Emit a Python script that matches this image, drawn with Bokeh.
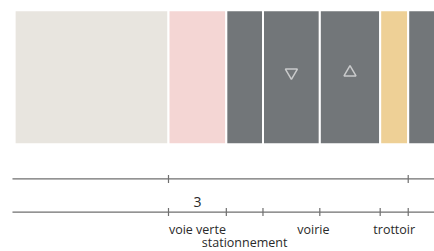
from bokeh.plotting import figure
from bokeh.models import Range1d
from bokeh.core.properties import value
from bokeh.embed import file_html
from bokeh.resources import INLINE
import numpy as np

# --- data (metres) ---
segments = ["terrain", "voie verte", "stationnement", "voirie", "voirie", "trottoir", "voirie"]
widths_m = [7.85, 2.95, 1.87, 2.9, 3.08, 1.43, 1.8]
seg_colors = ["#e8e5df", "#f4d6d4", "#727679", "#727679", "#727679", "#eed096", "#727679"]
lane_dirs = ["down", "up"]           # direction arrows in the two voirie lanes
dim_label = "3"                      # width of voie verte
labels = ["voie verte", "stationnement", "voirie", "trottoir"]

origin = -widths_m[0]
lefts = origin + np.concatenate([[0], np.cumsum(widths_m)[:-1]])
rights = lefts + np.array(widths_m)
centers = (lefts + rights) / 2

p = figure(width=434, height=251, output_backend="svg", toolbar_location=None,
           x_range=Range1d(-8.571, 13.571), y_range=Range1d(251, 0),
           min_border=0, outline_line_color=None)
p.axis.visible = False
p.grid.visible = False
p.background_fill_color = "white"
p.border_fill_color = "white"

# cross-section bands
p.quad(left=lefts, right=rights, top=9.7, bottom=143.7,
       fill_color=seg_colors, line_color="white", line_width=2)

# direction arrows in the two lanes
lane_idx = [3, 4]
for i, d in zip(lane_idx, lane_dirs):
    p.scatter(x=[centers[i]], y=[72], marker="inverted_triangle" if d == "down" else "triangle",
              size=12, fill_color=None, line_color="#c9cacb", line_width=1.5)

# dimension lines
x_line_start = -7.96
x_line_end = 13.6
line_col = "#6f6f6f"
p.segment(x0=[x_line_start, x_line_start], y0=[178.3, 211.7], x1=[x_line_end, x_line_end], y1=[178.3, 211.7],
          line_color=line_col, line_width=1.3)

# top ticks: whole profile width
top_ticks = [lefts[1], rights[5]]
p.segment(x0=top_ticks, y0=[174.5] * 2, x1=top_ticks, y1=[182.5] * 2, line_color=line_col, line_width=1.2)
# bottom ticks: each boundary
bot_ticks = list(lefts[1:6]) + [rights[5]]
p.segment(x0=bot_ticks, y0=[207.5] * len(bot_ticks), x1=bot_ticks, y1=[215.5] * len(bot_ticks),
          line_color=line_col, line_width=1.2)

# dimension value
p.text(x=[centers[1]], y=[201.5], text=[dim_label], text_align="center", text_baseline="middle",
       text_font=value("Open Sans"), text_font_size="14px", text_color="#2a2a2a")

# segment labels
lab_x = [centers[1], centers[2], (lefts[3] + rights[4]) / 2 - 0.42, centers[5]]
lab_y = [229, 242, 229, 229]
p.text(x=lab_x, y=lab_y, text=labels, text_align="center", text_baseline="middle",
       text_font=value("Open Sans"), text_font_size="12.5px", text_color="#2a2a2a")

open("out.html", "w").write(file_html(p, INLINE))
